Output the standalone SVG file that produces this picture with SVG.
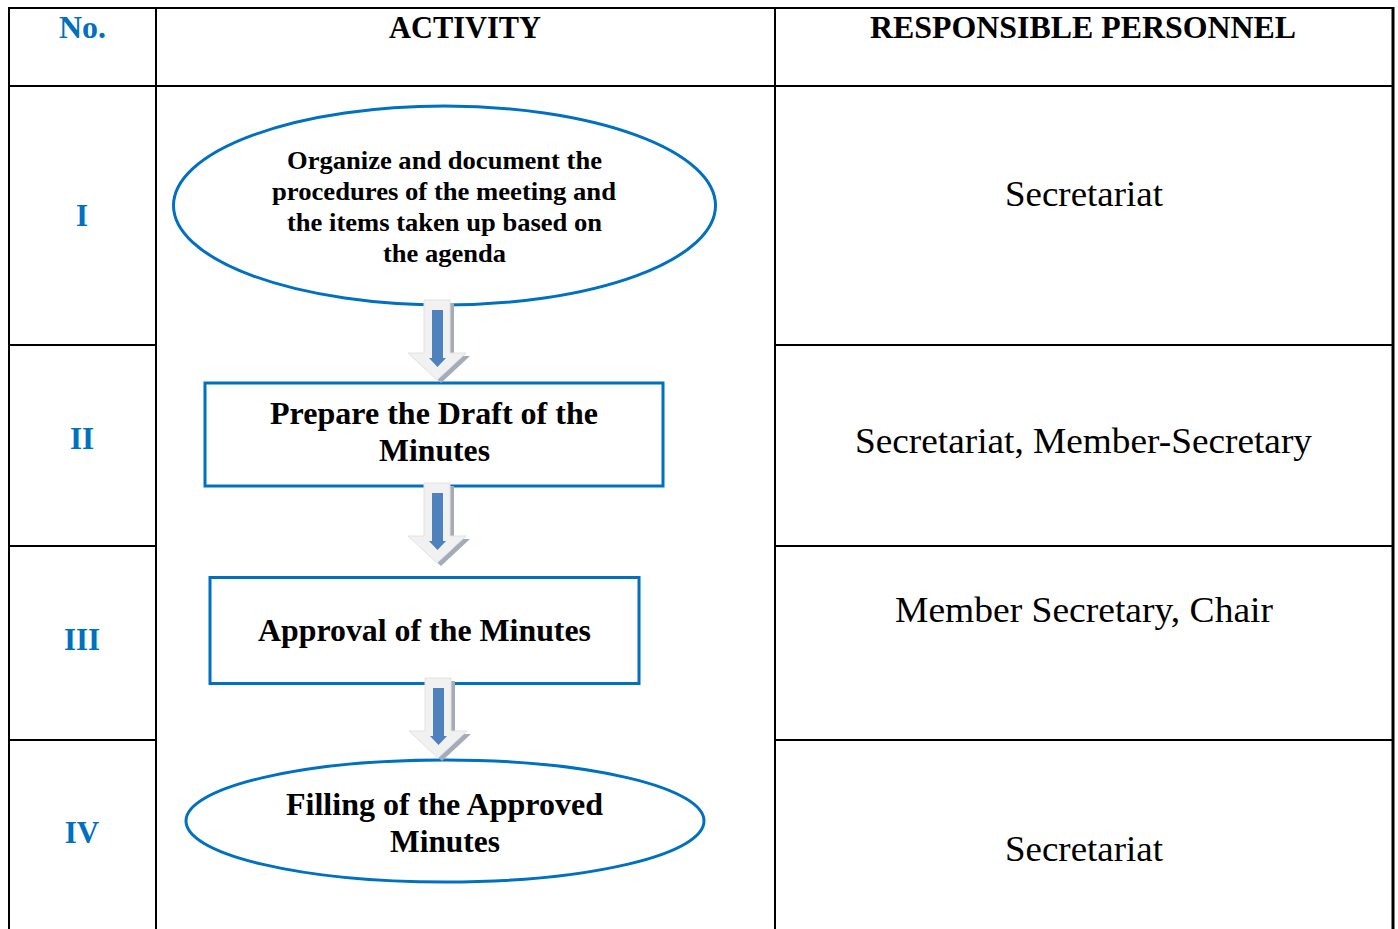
<svg xmlns="http://www.w3.org/2000/svg" width="1398" height="929" viewBox="0 0 1398 929">
<style>
.grid{stroke:#000;stroke-width:2;fill:none}
.hdr{font-family:"Liberation Serif","Times New Roman",serif;font-weight:bold;font-size:31px;fill:#000;text-anchor:middle}
.num{font-family:"Liberation Serif","Times New Roman",serif;font-weight:bold;font-size:31px;fill:#0070C0;text-anchor:middle}
.resp{font-family:"Liberation Serif","Times New Roman",serif;font-size:36px;fill:#000;text-anchor:middle}
.nt{font-family:"Liberation Serif","Times New Roman",serif;font-weight:bold;fill:#000;text-anchor:middle}
.shape{fill:#fff;stroke:#0070C0;stroke-width:3}
</style>
<defs>
<g id="arrow">
<polygon points="-13,0 13,0 13,53 29,53 0,80 -29,53 -13,53" transform="translate(4,3)" fill="#A3ACB8"/>
<polygon points="-13,0 13,0 13,53 29,53 0,80 -29,53 -13,53" fill="#F1F1F1" stroke="#E2E2E2" stroke-width="1"/>
<polygon points="-5,10 6,10 6,58 9,58 0.5,67 -8,58 -5,58" fill="#4F81BD"/>
</g>
</defs>
<rect width="1398" height="929" fill="#fff"/>
<g id="table">
<line class="grid" x1="8" y1="8" x2="1393" y2="8"/>
<line class="grid" x1="9" y1="7" x2="9" y2="929"/>
<line class="grid" x1="156" y1="7" x2="156" y2="929"/>
<line class="grid" x1="775" y1="7" x2="775" y2="929"/>
<line x1="1393" y1="7" x2="1393" y2="929" stroke="#000" stroke-width="3"/>
<line class="grid" x1="8" y1="86" x2="1392" y2="86"/>
<line class="grid" x1="8" y1="345" x2="156" y2="345"/>
<line class="grid" x1="775" y1="345" x2="1392" y2="345"/>
<line class="grid" x1="8" y1="546" x2="156" y2="546"/>
<line class="grid" x1="775" y1="546" x2="1392" y2="546"/>
<line class="grid" x1="8" y1="740" x2="156" y2="740"/>
<line class="grid" x1="775" y1="740" x2="1392" y2="740"/>
<text class="num" x="82.5" y="38" textLength="47" lengthAdjust="spacingAndGlyphs">No.</text>
<text class="hdr" x="465" y="38" textLength="152" lengthAdjust="spacingAndGlyphs">ACTIVITY</text>
<text class="hdr" x="1083" y="38" textLength="426" lengthAdjust="spacingAndGlyphs">RESPONSIBLE PERSONNEL</text>
<text class="num" x="82" y="226">I</text>
<text class="num" x="82" y="449">II</text>
<text class="num" x="82" y="650">III</text>
<text class="num" x="82" y="843">IV</text>
<text class="resp" x="1084" y="206" textLength="158" lengthAdjust="spacingAndGlyphs">Secretariat</text>
<text class="resp" x="1083.5" y="453" textLength="457" lengthAdjust="spacingAndGlyphs">Secretariat, Member-Secretary</text>
<text class="resp" x="1084" y="622" textLength="378" lengthAdjust="spacingAndGlyphs">Member Secretary, Chair</text>
<text class="resp" x="1084" y="861" textLength="158" lengthAdjust="spacingAndGlyphs">Secretariat</text>
</g>
<g id="node1">
<ellipse class="shape" cx="444.5" cy="205.5" rx="271" ry="99.5"/>
<text class="nt" font-size="26" x="444.5" y="169" textLength="315" lengthAdjust="spacingAndGlyphs">Organize and document the</text>
<text class="nt" font-size="26" x="444" y="200" textLength="344" lengthAdjust="spacingAndGlyphs">procedures of the meeting and</text>
<text class="nt" font-size="26" x="444.5" y="231" textLength="315" lengthAdjust="spacingAndGlyphs">the items taken up based on</text>
<text class="nt" font-size="26" x="444.5" y="262" textLength="123" lengthAdjust="spacingAndGlyphs">the agenda</text>
</g>
<g id="node2">
<rect class="shape" x="205" y="383" width="458" height="103"/>
<text class="nt" font-size="31" x="434" y="424" textLength="328" lengthAdjust="spacingAndGlyphs">Prepare the Draft of the</text>
<text class="nt" font-size="31" x="434.5" y="461" textLength="111" lengthAdjust="spacingAndGlyphs">Minutes</text>
</g>
<g id="node3">
<rect class="shape" x="210" y="577.5" width="429" height="106"/>
<text class="nt" font-size="31" x="424.5" y="641" textLength="333" lengthAdjust="spacingAndGlyphs">Approval of the Minutes</text>
</g>
<g id="node4">
<ellipse class="shape" cx="445" cy="821" rx="259" ry="61"/>
<text class="nt" font-size="31" x="444.5" y="815" textLength="317" lengthAdjust="spacingAndGlyphs">Filling of the Approved</text>
<text class="nt" font-size="31" x="445" y="852" textLength="110" lengthAdjust="spacingAndGlyphs">Minutes</text>
</g>
<g id="connectors">
<use href="#arrow" transform="translate(437,300)"/>
<use href="#arrow" transform="translate(437,483)"/>
<use href="#arrow" transform="translate(438,678)"/>
</g>
</svg>
